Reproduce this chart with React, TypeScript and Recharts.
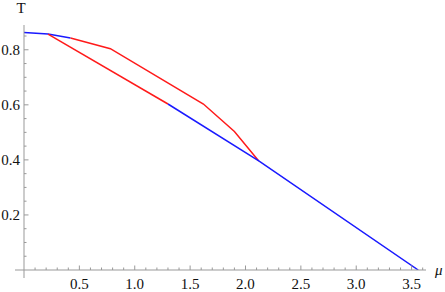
import React from "react";
import { LineChart, Line, XAxis, YAxis } from "recharts";

// Data (μ, T)
const blueTopMu = [0, 0.217, 0.42];
const blueTopT = [0.863, 0.857, 0.843];
const redUpperMu = [0.42, 0.78, 1.62, 1.9, 2.12];
const redUpperT = [0.843, 0.804, 0.603, 0.503, 0.396];
const redLowerMu = [0.217, 1.3];
const redLowerT = [0.857, 0.603];
const blueBottomMu = [1.3, 2.12, 3.56];
const blueBottomT = [0.603, 0.396, 0];

const xTicks = [0, 0.1, 0.2, 0.3, 0.4, 0.5, 0.6, 0.7, 0.8, 0.9, 1.0, 1.1, 1.2, 1.3, 1.4, 1.5, 1.6, 1.7, 1.8, 1.9, 2.0, 2.1, 2.2, 2.3, 2.4, 2.5, 2.6, 2.7, 2.8, 2.9, 3.0, 3.1, 3.2, 3.3, 3.4, 3.5, 3.6];
const xMajor = [0.5, 1.0, 1.5, 2.0, 2.5, 3.0, 3.5];
const yTicks = [0, 0.05, 0.1, 0.15, 0.2, 0.25, 0.3, 0.35, 0.4, 0.45, 0.5, 0.55, 0.6, 0.65, 0.7, 0.75, 0.8, 0.85];
const yMajor = [0.2, 0.4, 0.6, 0.8];

const xDomain: [number, number] = [0, 3.63];
const yDomain: [number, number] = [0, 0.89];

const toPts = (mu: number[], t: number[]) => mu.map((m, i) => ({ x: m, y: t[i] }));

const AXIS = "#999999";
const FONT = "Times New Roman, Times, Liberation Serif, Tinos, DejaVu Serif, Noto Serif";

const isMajor = (v: number, list: number[]) => list.some((m) => Math.abs(m - v) < 1e-6);

const XTick = (props: any) => {
  const { x, y, payload } = props;
  const v = payload.value;
  const major = isMajor(v, xMajor);
  if (Math.abs(v) < 1e-9) {
    return (
      <g>
        <line x1={x - 9} x2={x} y1={y} y2={y} stroke={AXIS} strokeWidth={1} />
        <line x1={x} x2={x} y1={y} y2={y + 8} stroke={AXIS} strokeWidth={1} />
      </g>
    );
  }
  return (
    <g>
      <line x1={x} x2={x} y1={y} y2={y - (major ? 4.5 : 2.5)} stroke={AXIS} strokeWidth={1} />
      {major && (
        <text x={x} y={y + 19} textAnchor="middle" fontFamily={FONT} fontSize={15} fill="#111">
          {v.toFixed(1)}
        </text>
      )}
    </g>
  );
};

const YTick = (props: any) => {
  const { x, y, payload } = props;
  const v = payload.value;
  if (Math.abs(v) < 1e-9) return <g />;
  const major = isMajor(v, yMajor);
  return (
    <g>
      <line x1={x} x2={x + (major ? 4.5 : 2.5)} y1={y} y2={y} stroke={AXIS} strokeWidth={1} />
      {major && (
        <text x={x - 4} y={y + 5} textAnchor="end" fontFamily={FONT} fontSize={15} fill="#111">
          {v.toFixed(1)}
        </text>
      )}
    </g>
  );
};

const XLabel = (props: any) => {
  const vb = props.viewBox || {};
  return (
    <text x={vb.x + vb.width + 9} y={vb.y + 5} fontFamily={FONT} fontStyle="italic" fontSize={15} fill="#111">
      μ
    </text>
  );
};

const YLabel = (props: any) => {
  const vb = props.viewBox || {};
  return (
    <text x={vb.x + vb.width - 3} y={vb.y - 12} textAnchor="middle" fontFamily={FONT} fontSize={15} fill="#111">
      T
    </text>
  );
};

export default function App() {
  return (
    <div style={{ position: "absolute", left: 0, top: 0, width: 445, height: 292, background: "#fff", fontFamily: FONT }}>
      <LineChart width={445} height={292} margin={{ top: 25, right: 19, bottom: 0, left: 0 }}>
        <XAxis
          type="number"
          dataKey="x"
          domain={xDomain}
          ticks={xTicks}
          interval={0}
          allowDataOverflow
          height={22}
          tickSize={0}
          tickMargin={0}
          tickLine={false}
          axisLine={{ stroke: AXIS, strokeWidth: 1 }}
          tick={<XTick />}
          label={<XLabel />}
        />
        <YAxis
          type="number"
          dataKey="y"
          domain={yDomain}
          ticks={yTicks}
          interval={0}
          allowDataOverflow
          width={24}
          tickSize={0}
          tickMargin={0}
          tickLine={false}
          axisLine={{ stroke: AXIS, strokeWidth: 1 }}
          tick={<YTick />}
          label={<YLabel />}
        />
        <Line data={toPts(blueTopMu, blueTopT)} dataKey="y" stroke="#1a1aff" strokeWidth={1.5} dot={false} isAnimationActive={false} />
        <Line data={toPts(redUpperMu, redUpperT)} dataKey="y" stroke="#ff1a1a" strokeWidth={1.5} dot={false} isAnimationActive={false} />
        <Line data={toPts(redLowerMu, redLowerT)} dataKey="y" stroke="#ff1a1a" strokeWidth={1.5} dot={false} isAnimationActive={false} />
        <Line data={toPts(blueBottomMu, blueBottomT)} dataKey="y" stroke="#1a1aff" strokeWidth={1.5} dot={false} isAnimationActive={false} />
      </LineChart>
    </div>
  );
}
